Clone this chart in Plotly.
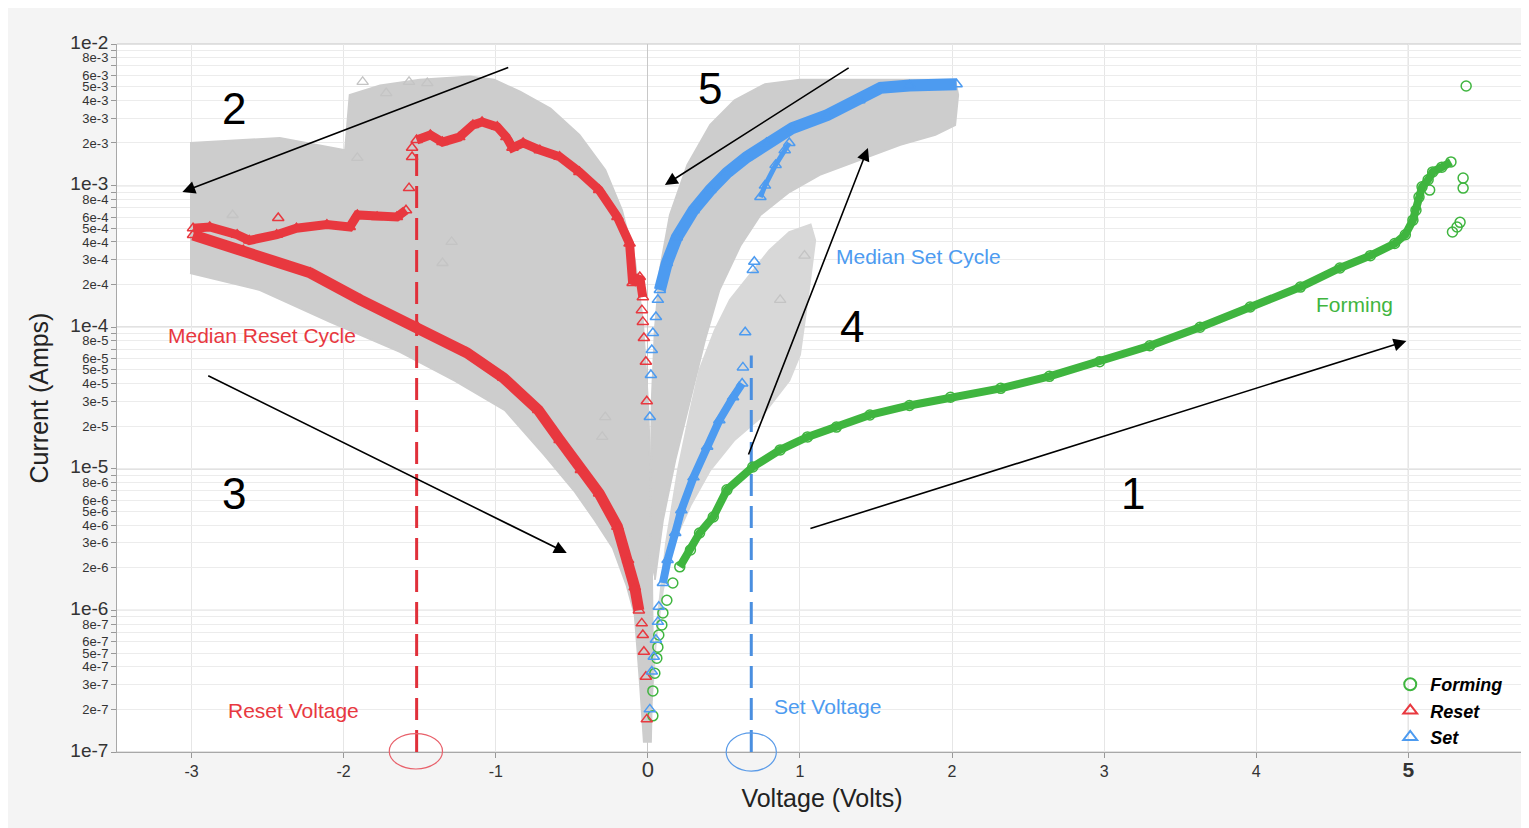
import plotly.graph_objects as go

# ---------------- data (Voltage in V, Current in A) ----------------
# Forming sweep (green circles)
FORM_V = [0.21, 0.28, 0.34, 0.43, 0.52, 0.69, 0.87, 1.05, 1.24, 1.46, 1.72, 1.99, 2.32, 2.64, 2.97,
          3.30, 3.63, 3.96, 4.29, 4.55, 4.75, 4.91, 4.98, 5.03, 5.05, 5.07, 5.09, 5.13, 5.16, 5.22, 5.28]
FORM_I = [2.03e-6, 2.67e-6, 3.52e-6, 4.57e-6, 7.1e-6, 1.03e-5, 1.36e-5, 1.68e-5, 1.97e-5, 2.4e-5, 2.8e-5,
          3.2e-5, 3.7e-5, 4.5e-5, 5.7e-5, 7.4e-5, 1.0e-4, 1.39e-4, 1.92e-4, 2.62e-4, 3.2e-4, 3.9e-4,
          4.5e-4, 5.7e-4, 6.7e-4, 8.3e-4, 9.8e-4, 1.10e-3, 1.25e-3, 1.35e-3, 1.47e-3]
FORM_SPARSE_V = [0.033, 0.033, 0.046, 0.059, 0.066, 0.072, 0.092, 0.099, 0.125, 0.164,
                 5.14, 5.36, 5.36, 5.34, 5.32, 5.29, 5.38]
FORM_SPARSE_I = [1.8e-7, 2.7e-7, 3.6e-7, 4.6e-7, 5.5e-7, 6.7e-7, 7.9e-7, 9.6e-7, 1.18e-6, 1.56e-6,
                 9.3e-4, 1.13e-3, 9.6e-4, 5.5e-4, 5.1e-4, 4.7e-4, 5.05e-3]

# Median reset cycle (red triangles)
RESET_LOWER_V = [-2.99, -2.66, -2.22, -1.89, -1.51, -1.19, -0.95, -0.72, -0.58, -0.44, -0.32, -0.20,
                 -0.13, -0.086, -0.059]
RESET_LOWER_I = [4.48e-4, 3.5e-4, 2.42e-4, 1.56e-4, 9.9e-5, 6.6e-5, 4.4e-5, 2.6e-5, 1.6e-5, 9.8e-6,
                 6.7e-6, 3.9e-6, 2.27e-6, 1.46e-6, 1.0e-6]
RESET_UPPER_V = [-2.99, -2.88, -2.70, -2.62, -2.44, -2.31, -2.11, -1.96, -1.91, -1.78, -1.65, -1.59]
RESET_UPPER_I = [5.0e-4, 5.1e-4, 4.5e-4, 4.1e-4, 4.5e-4, 5.0e-4, 5.3e-4, 5.1e-4, 6.2e-4, 6.0e-4,
                 6.0e-4, 6.7e-4]
RESET_RETURN_V = [-1.52, -1.43, -1.35, -1.24, -1.15, -1.09, -0.99, -0.93, -0.89, -0.82, -0.71, -0.58,
                  -0.45, -0.32, -0.20, -0.12, -0.10, -0.053, -0.033]
RESET_RETURN_I = [2.1e-3, 2.28e-3, 2.03e-3, 2.2e-3, 2.68e-3, 2.81e-3, 2.6e-3, 2.2e-3, 1.85e-3, 2.0e-3,
                  1.78e-3, 1.6e-3, 1.25e-3, 9.3e-4, 6.0e-4, 3.9e-4, 2.05e-4, 2.26e-4, 1.63e-4]
RESET_SPARSE_V = [-1.57, -1.55, -1.55, -2.43, -0.04, -0.033, -0.026, -0.013, -0.007,
                  -0.039, -0.033, -0.026, -0.013, -0.007]
RESET_SPARSE_I = [9.6e-4, 1.59e-3, 1.85e-3, 5.9e-4, 8.1e-7, 6.7e-7, 5.1e-7, 3.4e-7, 1.7e-7,
                  1.32e-4, 1.09e-4, 8.4e-5, 5.7e-5, 3.0e-5]

# Median set cycle (blue triangles)
SET_LOWER_V = [0.099, 0.13, 0.18, 0.22, 0.30, 0.39, 0.47, 0.56, 0.62]
SET_LOWER_I = [1.56e-6, 2.27e-6, 3.52e-6, 5.1e-6, 8.7e-6, 1.43e-5, 2.2e-5, 3.2e-5, 4.0e-5]
SET_STREAK_V = [0.74, 0.77, 0.84, 0.90, 0.93]
SET_STREAK_I = [8.3e-4, 1.0e-3, 1.40e-3, 1.78e-3, 2.0e-3]
SET_UPPER_V = [0.079, 0.125, 0.19, 0.30, 0.41, 0.52, 0.65, 0.78, 0.95, 1.18, 1.39, 1.53, 1.72, 2.03]
SET_UPPER_I = [1.83e-4, 2.84e-4, 4.3e-4, 6.7e-4, 9.3e-4, 1.23e-3, 1.59e-3, 2.0e-3, 2.55e-3, 3.15e-3,
               4.0e-3, 4.9e-3, 5.1e-3, 5.2e-3]
SET_SPARSE_V = [0.013, 0.026, 0.039, 0.053, 0.066, 0.072, 0.625, 0.64, 0.69, 0.70,
                0.013, 0.020, 0.026, 0.033, 0.053, 0.066]
SET_SPARSE_I = [2.0e-7, 3.7e-7, 4.7e-7, 6.2e-7, 8.3e-7, 1.06e-6, 5.2e-5, 9.2e-5, 2.54e-4, 2.9e-4,
                2.32e-5, 4.6e-5, 6.9e-5, 9.1e-5, 1.18e-4, 1.56e-4]

# Envelopes of all other cycles (grey clouds)
GRAY_RESET_V = [-3.01, -2.42, -1.99, -1.96, -1.76, -1.50, -1.17, -1.01, -0.84, -0.64, -0.45, -0.28,
                -0.17, -0.086, -0.033, 0.0, 0.02, 0.026, 0.033, 0.02, -0.026, -0.053, -0.086, -0.14,
                -0.23, -0.35, -0.48, -0.68, -0.94, -1.27, -1.63, -2.09, -2.55, -3.01]
GRAY_RESET_I = [2.0e-3, 2.17e-3, 1.78e-3, 4.37e-3, 5.1e-3, 5.6e-3, 5.9e-3, 5.6e-3, 4.6e-3, 3.5e-3,
                2.28e-3, 1.29e-3, 6.7e-4, 3.0e-4, 1.12e-4, 3.06e-5, 8.3e-6, 2.27e-6, 5.2e-7, 1.18e-7,
                1.18e-7, 3.2e-7, 9.3e-7, 1.51e-6, 2.76e-6, 4.35e-6, 6.9e-6, 1.25e-5, 2.6e-5, 4.2e-5,
                6.7e-5, 1.09e-4, 1.83e-4, 2.41e-4]
GRAY_SET_UPPER_V = [0.013, 0.026, 0.046, 0.079, 0.145, 0.26, 0.41, 0.57, 0.77, 1.0, 2.02, 2.04, 2.02,
                    1.89, 1.66, 1.39, 1.13, 0.93, 0.74, 0.61, 0.47, 0.375, 0.28, 0.18, 0.099, 0.046]
GRAY_SET_UPPER_I = [2.27e-6, 3.06e-5, 9.5e-5, 2.54e-4, 6.2e-4, 1.40e-3, 2.68e-3, 4.0e-3, 5.2e-3,
                    5.6e-3, 5.6e-3, 4.37e-3, 2.68e-3, 2.28e-3, 1.94e-3, 1.52e-3, 1.19e-3, 9.0e-4,
                    6.2e-4, 3.8e-4, 1.83e-4, 8.1e-5, 3.06e-5, 1.15e-5, 4.35e-6, 1.64e-6]
GRAY_SET_LOWER_V = [0.026, 0.053, 0.099, 0.164, 0.28, 0.41, 0.57, 0.74, 0.93, 1.0, 1.05, 1.10, 1.07,
                    0.93, 0.80, 0.67, 0.54, 0.44, 0.34, 0.28, 0.20, 0.12, 0.06]
GRAY_SET_LOWER_I = [2.3e-7, 6.2e-7, 1.39e-6, 2.9e-6, 5.5e-6, 9.8e-6, 1.6e-5, 2.29e-5, 4.2e-5, 6.4e-5,
                    1.56e-4, 4.1e-4, 5.3e-4, 4.7e-4, 3.5e-4, 2.34e-4, 1.56e-4, 9.5e-5, 5.0e-5, 2.6e-5,
                    1.0e-5, 3.0e-6, 8.0e-7]
GRAY_PTS_V = [-1.875, -1.72, -1.57, -1.45, -1.91, -2.73, -1.29, -1.35, -0.30, -0.28, 1.03, 0.87]
GRAY_PTS_I = [5.4e-3, 4.5e-3, 5.4e-3, 5.3e-3, 1.57e-3, 6.2e-4, 4.0e-4, 2.84e-4, 1.68e-5, 2.32e-5,
              3.2e-4, 1.56e-4]

RESET_VOLTAGE = -1.52
SET_VOLTAGE = 0.68
RESET_LINE_TOP = 1.78e-3   # current where the reset-voltage marker starts
SET_LINE_TOP = 6.3e-5      # current where the set-voltage marker starts

X_TICK_VALUES = [-3, -2, -1, 0, 1, 2, 3, 4, 5]
X_TICK_LABELS = ["-3", "-2", "-1", "0", "1", "2", "3", "4", "5"]
Y_DECADES = [-7, -6, -5, -4, -3, -2]
Y_MANTISSAS = [1, 2, 3, 4, 5, 6, 7, 8, 9]
Y_UNLABELLED = [7, 9]

# ---------------- styling ----------------
RED = "#e8383f"
BLUE = "#4d9bf0"
GREEN = "#3fb53f"
GRAY = "#cdcdcd"
GRAY_LIGHT = "#d8d8d8"
FONT = "Liberation Sans, Arial, sans-serif"
Y_MIN_EXP, Y_MAX_EXP = -7, -2

fig = go.Figure()


def cloud(v, i, color):
    fig.add_trace(go.Scatter(x=v, y=i, mode="lines", fill="toself", fillcolor=color,
                             line=dict(color=color, width=2),
                             hoverinfo="skip", showlegend=False))


cloud(GRAY_SET_LOWER_V, GRAY_SET_LOWER_I, GRAY_LIGHT)
cloud(GRAY_RESET_V, GRAY_RESET_I, GRAY)
cloud(GRAY_SET_UPPER_V, GRAY_SET_UPPER_I, GRAY)
fig.add_trace(go.Scatter(x=GRAY_PTS_V, y=GRAY_PTS_I, mode="markers",
                         marker=dict(symbol="triangle-up-open", size=10, color="#c4c4c4",
                                     line=dict(width=1.3)),
                         hoverinfo="skip", showlegend=False))

# voltage marker lines (dashed) drawn as traces so they follow the log axis
fig.add_trace(go.Scatter(x=[RESET_VOLTAGE, RESET_VOLTAGE], y=[10.0 ** Y_MIN_EXP, RESET_LINE_TOP],
                         mode="lines", line=dict(color="#e0303a", width=3, dash="22px,10px"),
                         hoverinfo="skip", showlegend=False, cliponaxis=False))
fig.add_trace(go.Scatter(x=[SET_VOLTAGE, SET_VOLTAGE], y=[10.0 ** Y_MIN_EXP, SET_LINE_TOP],
                         mode="lines", line=dict(color="#4a8fe0", width=3, dash="22px,10px"),
                         hoverinfo="skip", showlegend=False, cliponaxis=False))


def band(v, i, color, symbol, lw, group):
    fig.add_trace(go.Scatter(x=v, y=i, mode="lines+markers",
                             line=dict(color=color, width=lw),
                             marker=dict(symbol=symbol, size=10, color=color, line=dict(width=1.5)),
                             legendgroup=group, showlegend=False, hoverinfo="skip"))


def sparse(v, i, color, symbol, name, group):
    fig.add_trace(go.Scatter(x=v, y=i, mode="markers", name=name,
                             marker=dict(symbol=symbol, size=10, color=color, line=dict(width=1.5)),
                             legendgroup=group, showlegend=True, hoverinfo="skip"))


# Forming
band(FORM_V, FORM_I, GREEN, "circle-open", 8, "f")
sparse(FORM_SPARSE_V, FORM_SPARSE_I, GREEN, "circle-open", "<b><i>Forming</i></b>", "f")
# Reset
band(RESET_LOWER_V, RESET_LOWER_I, RED, "triangle-up-open", 11, "r")
band(RESET_UPPER_V, RESET_UPPER_I, RED, "triangle-up-open", 9, "r")
band(RESET_RETURN_V, RESET_RETURN_I, RED, "triangle-up-open", 9, "r")
sparse(RESET_SPARSE_V, RESET_SPARSE_I, RED, "triangle-up-open", "<b><i>Reset</i></b>", "r")
# Set
band(SET_LOWER_V, SET_LOWER_I, BLUE, "triangle-up-open", 8, "s")
band(SET_STREAK_V, SET_STREAK_I, BLUE, "triangle-up-open", 5, "s")
band(SET_UPPER_V, SET_UPPER_I, BLUE, "triangle-up-open", 12, "s")
sparse(SET_SPARSE_V, SET_SPARSE_I, BLUE, "triangle-up-open", "<b><i>Set</i></b>", "s")

# ---------------- axes ----------------
y_vals, y_text = [], []
for e in Y_DECADES:
    for m in Y_MANTISSAS:
        if e == -2 and m > 1:
            break
        y_vals.append(m * 10.0 ** e)
        if m == 1:
            y_text.append(f"<span style='font-size:19px'>1e{e}</span>")
        elif m in Y_UNLABELLED:
            y_text.append("")
        else:
            y_text.append(f"{m}e{e}")

x_text = []
for lab in X_TICK_LABELS:
    if lab == "0":
        x_text.append("<span style='font-size:22px'>0</span>")
    elif lab == "5":
        x_text.append("<b><span style='font-size:21px'>5</span></b>")
    else:
        x_text.append(lab)

fig.update_xaxes(range=[-3.49, 5.78], tickvals=X_TICK_VALUES, ticktext=x_text,
                 tickfont=dict(family=FONT, size=16, color="#333"),
                 ticks="outside", ticklen=5, tickcolor="#999",
                 showgrid=True, gridcolor="#e6e6e6", gridwidth=1,
                 zeroline=True, zerolinecolor="#c8c8c8", zerolinewidth=1,
                 showline=True, linecolor="#a8a8a8", linewidth=1,
                 title=dict(text="Voltage (Volts)", font=dict(family=FONT, size=25, color="#222"),
                            standoff=8))
fig.update_yaxes(type="log", range=[Y_MIN_EXP, Y_MAX_EXP], tickvals=y_vals, ticktext=y_text,
                 tickfont=dict(family=FONT, size=13, color="#333"),
                 ticks="outside", ticklen=5, tickcolor="#999",
                 showgrid=True, gridcolor="#ececec", gridwidth=1,
                 showline=True, linecolor="#a8a8a8", linewidth=1,
                 title=dict(text="Current (Amps)", font=dict(family=FONT, size=25, color="#222"),
                            standoff=14))

shapes = []
for e in Y_DECADES:
    frac = (e - Y_MIN_EXP) / (Y_MAX_EXP - Y_MIN_EXP)
    shapes.append(dict(type="line", xref="paper", yref="paper", x0=0, x1=1, y0=frac, y1=frac,
                       line=dict(color="#c6c6c6", width=1.2), layer="below"))
shapes.append(dict(type="line", xref="x", yref="paper", x0=5, x1=5, y0=0, y1=1,
                   line=dict(color="#c6c6c6", width=1.2), layer="below"))
shapes.append(dict(type="circle", xref="x", yref="paper", x0=RESET_VOLTAGE - 0.18,
                   x1=RESET_VOLTAGE + 0.17, y0=-0.024, y1=0.026,
                   line=dict(color="#e8606a", width=1.2)))
shapes.append(dict(type="circle", xref="x", yref="paper", x0=SET_VOLTAGE - 0.165,
                   x1=SET_VOLTAGE + 0.165, y0=-0.027, y1=0.027,
                   line=dict(color="#5a9be8", width=1.2)))

annotations = []
for txt, x, y in [("2", -2.72, -2.452), ("5", 0.41, -2.311), ("3", -2.72, -5.171),
                  ("4", 1.34, -3.992), ("1", 3.19, -5.171)]:
    annotations.append(dict(x=x, y=y, xref="x", yref="y", text=txt, showarrow=False,
                            font=dict(family=FONT, size=44, color="black")))
for txt, x, y, c in [("Median Reset Cycle", -2.54, -4.062, RED),
                     ("Median Set Cycle", 1.78, -3.504, BLUE),
                     ("Forming", 4.645, -3.843, GREEN),
                     ("Reset Voltage", -2.33, -6.71, RED),
                     ("Set Voltage", 1.18, -6.68, BLUE)]:
    annotations.append(dict(x=x, y=y, xref="x", yref="y", text=txt, showarrow=False,
                            font=dict(family=FONT, size=21, color=c)))
for (hx, hy), (tx, ty) in [((-3.06, -3.045), (-0.908, -2.162)),
                           ((0.112, -2.996), (1.33, -2.162)),
                           ((-0.533, -5.595), (-2.90, -4.338)),
                           ((1.447, -2.734), (0.658, -4.910)),
                           ((4.987, -4.097), (1.059, -5.425))]:
    annotations.append(dict(x=hx, y=hy, ax=tx, ay=ty, xref="x", yref="y", axref="x", ayref="y",
                            text="", showarrow=True, arrowhead=2, arrowsize=1.6,
                            arrowwidth=1.6, arrowcolor="black", standoff=0, startstandoff=0))

fig.update_layout(
    width=1521, height=820,
    margin=dict(l=109, r=2, t=36, b=76),
    paper_bgcolor="#f4f4f4", plot_bgcolor="white",
    font=dict(family=FONT, color="#222"),
    shapes=shapes, annotations=annotations,
    legend=dict(x=0.903, y=0.1215, xanchor="left", yanchor="top",
                bgcolor="rgba(255,255,255,0)", borderwidth=0,
                font=dict(family=FONT, size=18, color="black"),
                tracegroupgap=0, itemsizing="constant"),
    showlegend=True,
)

fig.write_html("out.html")
